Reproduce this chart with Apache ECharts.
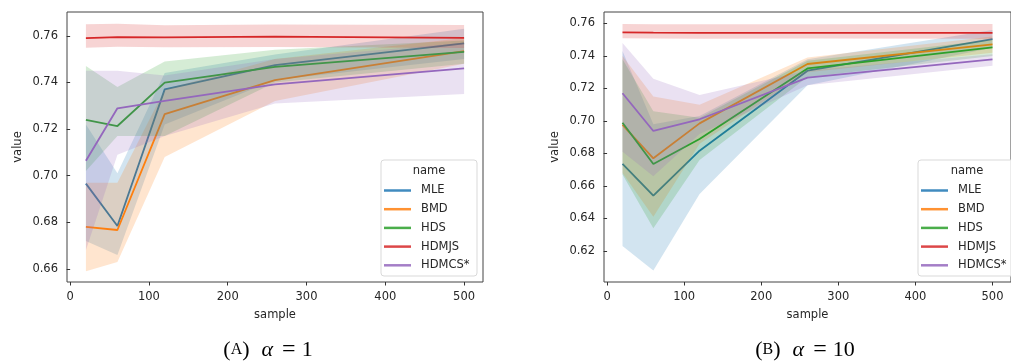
<!DOCTYPE html>
<html>
<head>
<meta charset="utf-8">
<script src="https://cdn.jsdelivr.net/npm/echarts@6/dist/echarts.min.js"></script>
<style>html,body{margin:0;padding:0;background:#fff}#c{width:1011px;height:362px}</style>
</head>
<body>
<div id="c"></div>
<script>
// ---------- data ----------
const samples = [20, 60, 120, 260, 500];
const names = ['MLE', 'BMD', 'HDS', 'HDMJS', 'HDMCS*'];
const xTicks = [0, 100, 200, 300, 400, 500];
const yTicksA = [0.66, 0.68, 0.70, 0.72, 0.74, 0.76];
const yTicksB = [0.62, 0.64, 0.66, 0.68, 0.70, 0.72, 0.74, 0.76];

// Panel A (alpha = 1)
const A_MLE_mean = [0.6966, 0.6784, 0.7370, 0.7474, 0.7567];
const A_MLE_lo   = [0.672, 0.666, 0.722, 0.741, 0.750];
const A_MLE_hi   = [0.722, 0.701, 0.744, 0.752, 0.763];
const A_BMD_mean = [0.6780, 0.6767, 0.7264, 0.7410, 0.7534];
const A_BMD_lo   = [0.659, 0.663, 0.708, 0.732, 0.748];
const A_BMD_hi   = [0.697, 0.697, 0.737, 0.750, 0.759];
const A_HDS_mean = [0.7239, 0.7213, 0.7399, 0.7467, 0.7531];
const A_HDS_lo   = [0.702, 0.717, 0.717, 0.740, 0.748];
const A_HDS_hi   = [0.747, 0.738, 0.749, 0.754, 0.758];
const A_HDMJS_mean = [0.7590, 0.7594, 0.7593, 0.7596, 0.7591];
const A_HDMJS_lo   = [0.7549, 0.7553, 0.7551, 0.7552, 0.7548];
const A_HDMJS_hi   = [0.7649, 0.7652, 0.7645, 0.7648, 0.7646];
const A_HDMCS_mean = [0.7064, 0.7289, 0.7321, 0.7392, 0.7460];
const A_HDMCS_lo   = [0.668, 0.709, 0.717, 0.731, 0.735];
const A_HDMCS_hi   = [0.745, 0.745, 0.743, 0.750, 0.757];

// Panel B (alpha = 10)
const B_MLE_mean = [0.6735, 0.6540, 0.6817, 0.7309, 0.7503];
const B_MLE_lo   = [0.623, 0.608, 0.655, 0.722, 0.745];
const B_MLE_hi   = [0.743, 0.698, 0.703, 0.738, 0.756];
const B_BMD_mean = [0.6975, 0.6770, 0.6985, 0.7350, 0.7471];
const B_BMD_lo   = [0.668, 0.641, 0.686, 0.730, 0.742];
const B_BMD_hi   = [0.740, 0.715, 0.710, 0.739, 0.752];
const B_HDS_mean = [0.6989, 0.6735, 0.6889, 0.7323, 0.7452];
const B_HDS_lo   = [0.667, 0.634, 0.676, 0.727, 0.740];
const B_HDS_hi   = [0.738, 0.706, 0.702, 0.737, 0.750];
const B_HDMJS_mean = [0.7545, 0.7543, 0.7541, 0.7541, 0.7542];
const B_HDMJS_lo   = [0.7508, 0.7507, 0.7506, 0.7507, 0.7506];
const B_HDMJS_hi   = [0.7596, 0.7595, 0.7594, 0.7595, 0.7596];
const B_HDMCS_mean = [0.7170, 0.6938, 0.7010, 0.7266, 0.7379];
const B_HDMCS_lo   = [0.681, 0.666, 0.692, 0.722, 0.734];
const B_HDMCS_hi   = [0.748, 0.726, 0.716, 0.731, 0.741];

// ---------- styling ----------
const colors = ['#1f77b4', '#ff7f0e', '#2ca02c', '#d62728', '#9467bd'];
const bandColors = ['rgba(31,119,180,0.2)', 'rgba(255,127,14,0.2)', 'rgba(44,160,44,0.2)', 'rgba(214,39,40,0.2)', 'rgba(148,103,189,0.2)'];
const FONT = 'DejaVu Sans';
const TXT = '#262626';

const panels = [
  { mean: [A_MLE_mean, A_BMD_mean, A_HDS_mean, A_HDMJS_mean, A_HDMCS_mean],
    lo: [A_MLE_lo, A_BMD_lo, A_HDS_lo, A_HDMJS_lo, A_HDMCS_lo],
    hi: [A_MLE_hi, A_BMD_hi, A_HDS_hi, A_HDMJS_hi, A_HDMCS_hi] },
  { mean: [B_MLE_mean, B_BMD_mean, B_HDS_mean, B_HDMJS_mean, B_HDMCS_mean],
    lo: [B_MLE_lo, B_BMD_lo, B_HDS_lo, B_HDMJS_lo, B_HDMCS_lo],
    hi: [B_MLE_hi, B_BMD_hi, B_HDS_hi, B_HDMJS_hi, B_HDMCS_hi] }
];

function bandRender(fill) {
  return function (params, api) {
    const n = samples.length;
    const top = [], bot = [];
    for (let i = 0; i < n; i++) {
      const x = api.value(3 * i);
      top.push(api.coord([x, api.value(3 * i + 2)]));
      bot.unshift(api.coord([x, api.value(3 * i + 1)]));
    }
    return { type: 'polygon', shape: { points: top.concat(bot) }, style: { fill: fill, stroke: null } };
  };
}

const series = [];
panels.forEach((p, pi) => {
  names.forEach((n, k) => {
    const flat = [];
    samples.forEach((s, i) => { flat.push(s, p.lo[k][i], p.hi[k][i]); });
    series.push({
      name: n + ' band' + pi, type: 'custom', coordinateSystem: 'cartesian2d',
      xAxisIndex: pi, yAxisIndex: pi, silent: true, z: 2 + k * 2,
      renderItem: bandRender(bandColors[k]),
      data: [flat]
    });
    series.push({
      name: n, type: 'line', xAxisIndex: pi, yAxisIndex: pi,
      symbol: 'none', z: 3 + k * 2,
      color: colors[k],
      lineStyle: { color: colors[k], width: 1.8 },
      data: samples.map((s, i) => [s, p.mean[k][i]])
    });
  });
});

function xAxis(gi) {
  return {
    type: 'value', gridIndex: gi, min: -4, max: 524,
    name: 'sample', nameLocation: 'middle', nameGap: 27,
    nameTextStyle: { fontFamily: FONT, fontSize: 11.5, color: TXT },
    axisLine: { show: false },
    axisTick: { show: true, length: 3.5, customValues: xTicks, lineStyle: { color: '#333', width: 1 } },
    axisLabel: { customValues: xTicks, fontFamily: FONT, fontSize: 11.5, color: TXT, margin: 9 },
    splitLine: { show: false }
  };
}
function yAxis(gi, mn, mx, ticks) {
  return {
    type: 'value', gridIndex: gi, min: mn, max: mx,
    name: 'value', nameLocation: 'middle', nameGap: 43, nameRotate: 90,
    nameTextStyle: { fontFamily: FONT, fontSize: 11.5, color: TXT },
    axisLine: { show: false },
    axisTick: { show: true, length: 3.5, customValues: ticks, lineStyle: { color: '#333', width: 1 } },
    axisLabel: { customValues: ticks, fontFamily: FONT, fontSize: 11.5, color: TXT, margin: 9,
      formatter: v => v.toFixed(2) },
    splitLine: { show: false }
  };
}

function legend(left, top) {
  return {
    data: names, orient: 'vertical', left: left, top: top, z: 100,
    icon: 'rect', itemWidth: 27, itemHeight: 2.5, itemGap: 4.7,
    padding: 0, selectedMode: false,
    itemStyle: { opacity: 0.85 },
    textStyle: { fontFamily: FONT, fontSize: 11.5, color: TXT, lineHeight: 14, padding: [0, 0, 0, 5] }
  };
}

function legendBox(x, y, w, h, tx) {
  return [
    { type: 'rect', shape: { x: x, y: y, width: w, height: h, r: 3 },
      style: { fill: 'rgba(255,255,255,0.8)', stroke: '#d9d9d9', lineWidth: 1 }, z: 50 },
    { type: 'text', x: tx, y: y + 11, z: 51,
      style: { text: 'name', fontFamily: FONT, fontSize: 11.5, fill: TXT, align: 'center', verticalAlign: 'middle' } }
  ];
}

function caption(cx, label, rhs) {
  return { type: 'text', x: cx, y: 350, z: 60,
    style: {
      text: '{p|(}{sc|' + label + '}{p|)}{a|α}{e|=}{n|' + rhs + '}',
      align: 'center', verticalAlign: 'middle',
      rich: {
        p: { fontFamily: 'Liberation Serif', fontSize: 22, fill: '#000' },
        sc: { fontFamily: 'Liberation Serif', fontSize: 16, fill: '#000' },
        a: { fontFamily: 'Liberation Serif', fontStyle: 'italic', fontSize: 22, fill: '#000', padding: [0, 9, 0, 12] },
        e: { fontFamily: 'Liberation Serif', fontSize: 24, fill: '#000', padding: [0, 6, 0, 0] },
        n: { fontFamily: 'Liberation Serif', fontSize: 22, fill: '#000' }
      }
    } };
}

const chart = echarts.init(document.getElementById('c'), null, { renderer: 'canvas' });
chart.setOption({
  animation: false,
  backgroundColor: '#fff',
  grid: [
    { left: 67, top: 12, width: 416, height: 270, show: true, borderColor: '#444', borderWidth: 1, backgroundColor: 'transparent' },
    { left: 604, top: 12, width: 414, height: 270, show: true, borderColor: '#444', borderWidth: 1, backgroundColor: 'transparent' }
  ],
  xAxis: [xAxis(0), xAxis(1)],
  yAxis: [yAxis(0, 0.6544, 0.7702, yTicksA), yAxis(1, 0.6009, 0.7670, yTicksB)],
  legend: [legend(384, 183.5), legend(921, 183.5)],
  graphic: [].concat(
    legendBox(381, 160, 96, 116, 429),
    legendBox(918, 160, 96, 116, 967),
    [caption(268, 'A', '1'), caption(805, 'B', '10')]
  ),
  series: series
});
</script>
</body>
</html>
